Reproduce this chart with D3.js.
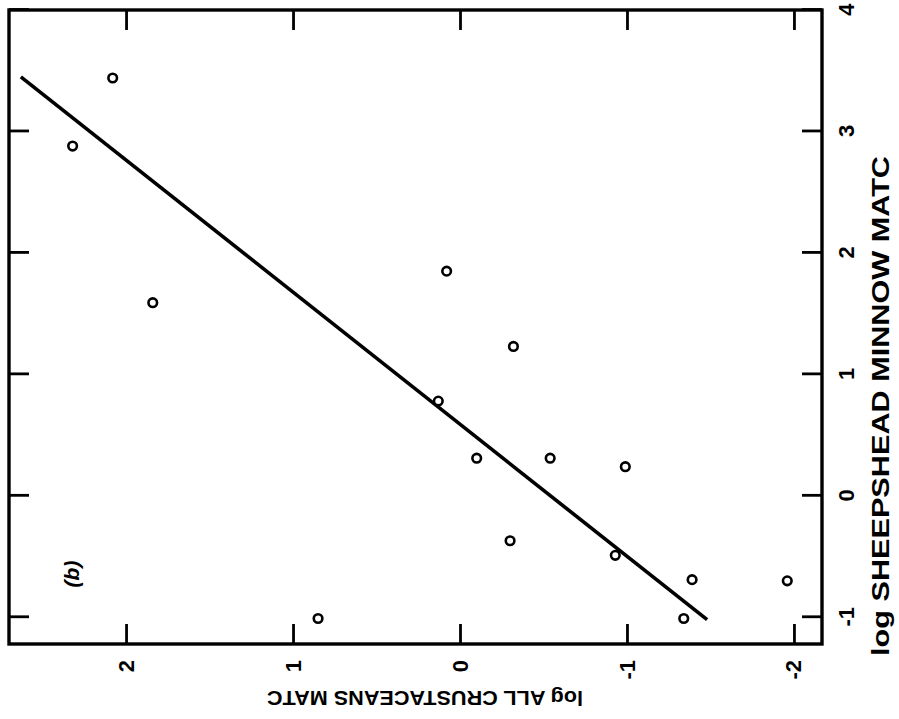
<!DOCTYPE html>
<html>
<head>
<meta charset="utf-8">
<script src="https://cdn.jsdelivr.net/npm/d3@7"></script>
<style>
  html, body { margin: 0; padding: 0; background: #fff; }
  svg { display: block; }
  text { font-family: "Liberation Sans", Arial, "DejaVu Sans", sans-serif; fill: #000; }
</style>
</head>
<body>
<svg id="chart" width="899" height="719"></svg>
<script>
// ---- data (log MATC values) ----
const sheepshead  = [3.44, 2.88, 1.59, 1.85, 0.78, 1.23, 0.31, 0.31, 0.24, -0.37, -0.49, -1.01, -0.69, -1.01, -0.70];
const crustaceans = [2.08, 2.32, 1.84, 0.08, 0.13, -0.32, -0.10, -0.54, -0.99, -0.30, -0.93, 0.85, -1.39, -1.34, -1.96];
// regression line end points
const fitSheepshead  = [-1.02, 3.45];
const fitCrustaceans = [-1.48, 2.63];
// ticks
const xTicks = [-1, 0, 1, 2, 3, 4];
const yTicks = [-2, -1, 0, 1, 2];
const xTitle = "log SHEEPSHEAD MINNOW MATC";
const yTitle = "log ALL CRUSTACEANS MATC";
const panelLabel = "(b)";

// ---- layout: the figure is drawn as a normal chart and rotated -90deg ----
const svg = d3.select("#chart");
const W = 634;   // plot width  (original orientation)
const H = 813;   // plot height (original orientation)
const g = svg.append("g").attr("transform", "translate(9,644) rotate(-90)");

const x = d3.scaleLinear().domain([-1.22, 4.0]).range([0, W]);
const y = d3.scaleLinear().domain([-2.168, 2.701]).range([H, 0]);

const tickLen = 20;
const tickSW = 2.8;
const fmt = d => String(d);

// frame
g.append("rect").attr("x", 0).attr("y", 0).attr("width", W).attr("height", H)
  .attr("fill", "none").attr("stroke", "#000").attr("stroke-width", 3.4);

// axes with inward ticks (bottom & left labelled, top & right mirrored)
const bottomAxis = g.append("g").attr("transform", `translate(0,${H})`)
  .call(d3.axisBottom(x).tickValues(xTicks).tickSize(-tickLen).tickFormat(fmt));
const topAxis = g.append("g")
  .call(d3.axisTop(x).tickValues(xTicks).tickSize(-tickLen).tickFormat(""));
const leftAxis = g.append("g")
  .call(d3.axisLeft(y).tickValues(yTicks).tickSize(-tickLen).tickPadding(16).tickFormat(fmt));
const rightAxis = g.append("g").attr("transform", `translate(${W},0)`)
  .call(d3.axisRight(y).tickValues(yTicks).tickSize(-tickLen).tickFormat(""));

[bottomAxis, topAxis, leftAxis, rightAxis].forEach(a => {
  a.select(".domain").remove();
  a.selectAll(".tick line").attr("stroke", "#000").attr("stroke-width", tickSW);
  a.selectAll("text").attr("font-size", 22).attr("font-weight", "bold").attr("fill", "#000");
});
bottomAxis.selectAll("text").attr("dy", null).attr("y", 845 - H);

// axis titles
g.append("text")
  .attr("x", 238).attr("y", 880)
  .attr("text-anchor", "middle")
  .attr("font-size", 23).attr("font-weight", "bold")
  .attr("textLength", 500).attr("lengthAdjust", "spacingAndGlyphs")
  .text(xTitle);

g.append("text")
  .attr("transform", `translate(-47,416) rotate(-90)`)
  .attr("text-anchor", "middle")
  .attr("font-size", 21).attr("font-weight", "bold")
  .attr("textLength", 316).attr("lengthAdjust", "spacingAndGlyphs")
  .text(yTitle);

// panel label
g.append("text")
  .attr("x", 70).attr("y", 70)
  .attr("text-anchor", "middle")
  .attr("font-size", 21).attr("font-style", "italic").attr("font-weight", "bold")
  .text(panelLabel);

// regression line
const line = d3.line().x(d => x(d[0])).y(d => y(d[1]));
g.append("path")
  .datum(d3.zip(fitSheepshead, fitCrustaceans))
  .attr("d", line)
  .attr("fill", "none").attr("stroke", "#000").attr("stroke-width", 3.6);

// points
g.selectAll("circle.pt")
  .data(d3.zip(sheepshead, crustaceans))
  .join("circle")
  .attr("class", "pt")
  .attr("cx", d => x(d[0])).attr("cy", d => y(d[1]))
  .attr("r", 4.3)
  .attr("fill", "#fff").attr("stroke", "#000").attr("stroke-width", 2.6);
</script>
</body>
</html>
